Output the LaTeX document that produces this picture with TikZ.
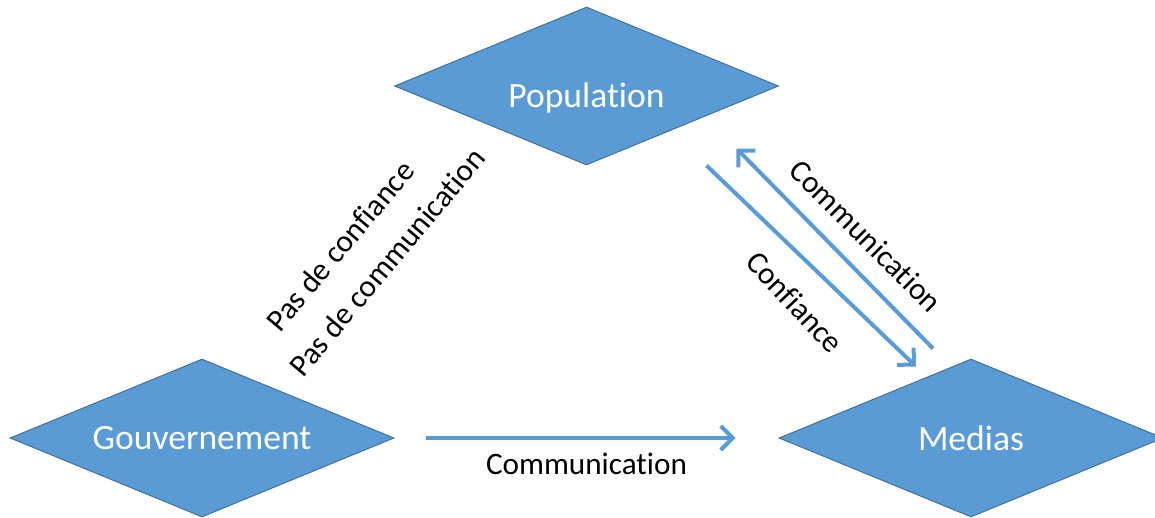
\documentclass[tikz,border=0pt]{standalone}
\usepackage{fontspec}
\setmainfont[Ligatures=NoCommon]{Carlito}
\usetikzlibrary{positioning,arrows.meta,calc,shapes.geometric}
\definecolor{boxblue}{RGB}{91,155,213}
\definecolor{edgeblue}{RGB}{65,113,156}

\begin{document}
\begin{tikzpicture}[
        x=0.5pt, y=-0.5pt,
        node distance = 192pt,
        diam/.style = {diamond, draw=edgeblue, line width=0.5pt, fill=boxblue,
                       shape aspect=2.4, inner sep=0pt,
                       minimum width=192pt, minimum height=79pt,
                       text=white, font=\fontsize{17.8}{20}\selectfont},
        lbl/.style  = {font=\fontsize{15.6}{18}\selectfont, inner sep=0pt},
        arr/.style  = {-{Straight Barb[length=6pt,width=12pt]}, line width=2pt, draw=boxblue}
    ]
    \useasboundingbox (0,0) rectangle (1155,518);
    \node[diam] (gouv) at (202,438) {Gouvernement};
    \node[diam, right=of gouv] (medias) {Medias};
    \node[diam] (pop) at ($(gouv)!0.5!(medias)+(0,-352)$)
        {\raisebox{-4.5pt}[\height][0pt]{Population}};
    % end points of the two slanted arrows
    \coordinate (c1) at ($(pop.south)+(120,0)$);
    \coordinate (c2) at ($(medias.north)+(-55,8)$);
    \coordinate (c3) at ($(medias.north)+(-38,-10)$);
    \coordinate (c4) at ($(pop.south)+(150,-17)$);
    \draw[arr, shorten <=15.5pt, shorten >=21.5pt] (gouv.east) --
        node[lbl, below=6.5pt] (bcomm) {Communication} (medias.west);
    \draw[arr] (c1) -- (c2);
    \draw[arr] (c3) -- (c4);
    \node[lbl, rotate=-45] (rcomm) at (866,236) {Communication};
    \node[lbl, rotate=-47] (conf)  at (795,302) {Confiance};
    \node[lbl, rotate=50]  (nconf) at (340,246) {Pas de confiance};
    \node[lbl, rotate=50]  (ncomm) at (387,262) {Pas de communication};
\end{tikzpicture}
\end{document}
